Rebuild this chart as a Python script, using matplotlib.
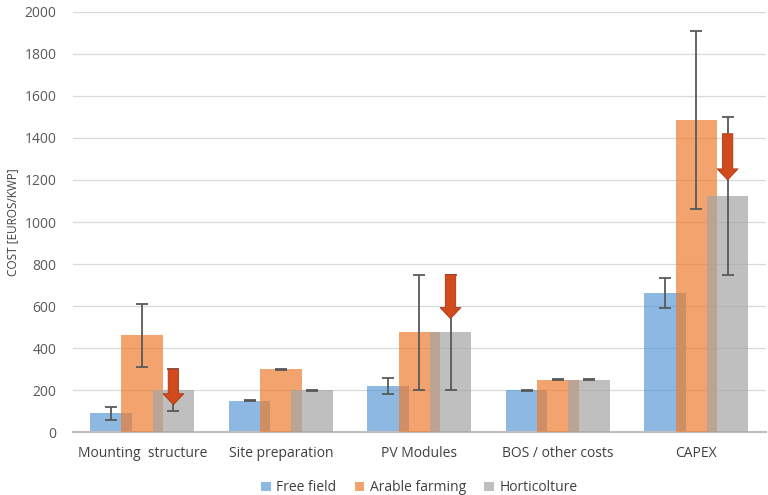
import matplotlib
matplotlib.use("Agg")
import matplotlib.pyplot as plt
import numpy as np
from matplotlib.patches import FancyArrowPatch

categories = ["Mounting  structure", "Site preparation", "PV Modules", "BOS / other costs", "CAPEX"]
series_names = ["Free field", "Arable farming", "Horticolture"]

free_field = [90, 150, 220, 200, 660]
free_field_lo = [60, 147, 180, 198, 590]
free_field_hi = [120, 153, 260, 202, 732]

arable = [460, 300, 475, 250, 1485]
arable_lo = [310, 298, 200, 248, 1062]
arable_hi = [610, 302, 750, 252, 1910]

horti = [200, 200, 475, 250, 1125]
horti_lo = [100, 198, 200, 248, 748]
horti_hi = [300, 202, 750, 252, 1500]

# arrows on the horticulture bars (category index, start value, end value)
arrow_cat = [0, 2, 4]
arrow_start = [300, 750, 1420]
arrow_end = [130, 540, 1200]

plt.rcParams['font.family'] = ['Open Sans', 'DejaVu Sans']

fig = plt.figure(figsize=(7.68, 4.95), dpi=100)
ax = fig.add_axes([0.095, 0.127, 0.902, 0.849])

x = np.arange(len(categories))
width = 0.30
offs = [-0.225, 0.0, 0.225]
colors = ["#5B9BD5", "#ED7D31", "#A5A5A5"]
alpha = 0.7
vals = [free_field, arable, horti]
los = [free_field_lo, arable_lo, horti_lo]
his = [free_field_hi, arable_hi, horti_hi]

for i in range(3):
    v = np.array(vals[i]); lo = np.array(los[i]); hi = np.array(his[i])
    ax.bar(x + offs[i], v, width, color=colors[i], alpha=alpha, label=series_names[i], zorder=2 + i)
    ax.errorbar(x + offs[i], v, yerr=[v - lo, hi - v], fmt='none', ecolor="#595959",
                elinewidth=1.3, capsize=4.5, capthick=1.3, zorder=6)

for c, s, e in zip(arrow_cat, arrow_start, arrow_end):
    xa = x[c] + offs[2]
    arr = FancyArrowPatch((xa, s), (xa, e), arrowstyle="simple,head_length=0.8,head_width=1.5,tail_width=0.75",
                          mutation_scale=10, shrinkA=0, shrinkB=0,
                          facecolor="#D04A1C", edgecolor="#A5391A", linewidth=0.6, zorder=8)
    ax.add_patch(arr)

ax.set_xlim(-0.5, 4.5)
ax.set_ylim(0, 2000)
ax.set_yticks(np.arange(0, 2001, 200))
ax.set_xticks(x)
ax.set_xticklabels(categories, fontsize=10, color="#404040")
ax.tick_params(axis='y', labelsize=10, colors="#595959", length=0, pad=12)
ax.tick_params(axis='x', length=0, pad=10)
ax.grid(axis='y', color="#D9D9D9", linewidth=0.9, zorder=0)
ax.set_axisbelow(True)
for sp in ["top", "right", "left"]:
    ax.spines[sp].set_visible(False)
ax.spines["bottom"].set_color("#BFBFBF")
ax.spines["bottom"].set_linewidth(1.5)
ax.set_ylabel("COST [EUROS/KWP]", fontsize=8.5, color="#404040", labelpad=4)

leg = ax.legend(loc="upper center", bbox_to_anchor=(0.5, -0.085), ncol=3, frameon=False,
                fontsize=10, handlelength=0.7, handleheight=0.7, handletextpad=0.4, columnspacing=1.3)
for t in leg.get_texts():
    t.set_color("#404040")

fig.savefig("out.png", dpi=100)
